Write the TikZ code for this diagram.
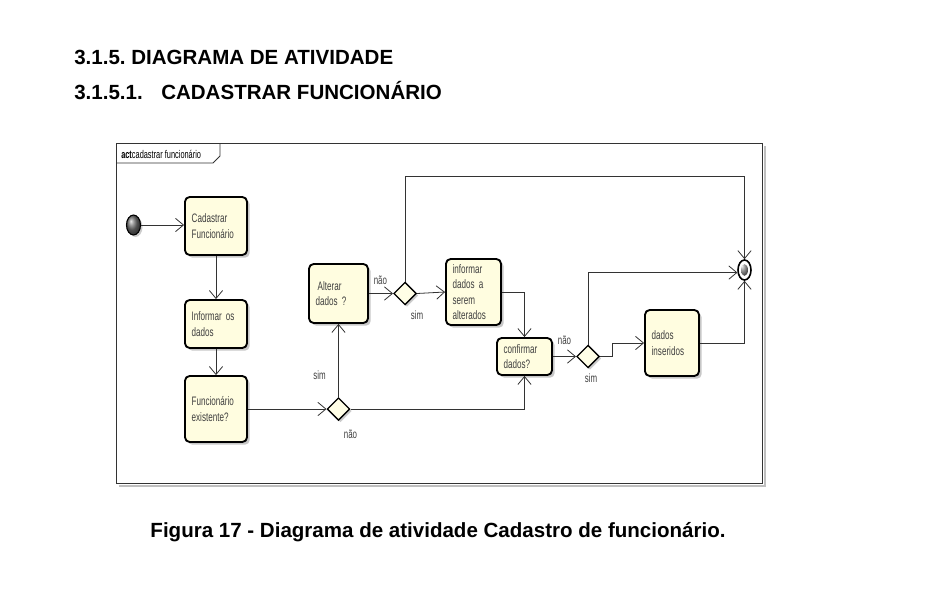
\documentclass[tikz,border=0pt]{standalone}
\usepackage{fontspec}
\setmainfont{Liberation Sans}
\newfontfamily\narrowfont[FakeStretch=0.66]{Liberation Sans}
\newcommand{\boxfont}{\narrowfont\fontsize{9.2}{11.5}\selectfont\spaceskip=1.8pt\relax}
\newcommand{\tabfont}{\narrowfont\fontsize{8.4}{9}\selectfont\spaceskip=1.6pt\relax}
\usetikzlibrary{arrows.meta,shapes.geometric,shadows}

\begin{document}
\begin{tikzpicture}[x=0.75pt,y=-0.75pt,
  box/.style 2 args={draw=black, line width=1.4pt, rounded corners=3.5pt, fill=yellow!12,
    drop shadow={shadow xshift=2pt, shadow yshift=-2pt, fill=black!22, opacity=1},
    align=left, inner xsep=5pt, inner ysep=0pt, text width=#1, minimum height=#2,
    font=\boxfont, text=black!75},
  dec/.style={diamond, draw=black, line width=1pt, fill=yellow!10, inner sep=0pt,
    minimum width=17pt, minimum height=17pt,
    drop shadow={shadow xshift=1.5pt, shadow yshift=-1.5pt, fill=black!20, opacity=1}},
  flow/.style={draw=black!80, line width=0.6pt, -{Straight Barb[length=6pt,width=10pt]}},
  lbl/.style={font=\narrowfont\fontsize{9}{10}\selectfont, text=black!75},
  head/.style={anchor=base west, inner sep=0pt, font=\bfseries\fontsize{15.4}{18}\selectfont}]
\useasboundingbox (0,0) rectangle (946,596);

% titles
\node[head] (h1n) at (74,64) {3.1.5.};
\node[head] (h1t) at (131,64) {DIAGRAMA DE ATIVIDADE};
\node[head] (h2n) at (74,99) {3.1.5.1.};
\node[head] (h2t) at (161,99) {CADASTRAR FUNCIONÁRIO};

% frame
\draw[black!25, line width=1.5pt] (765,146) -- (765,486) -- (119,486);
\draw[black!80, line width=0.7pt] (116,143) rectangle (762,483);
\draw[black!80, line width=0.7pt] (116,163) -- (213,163) -- (220,156) -- (220,143);
\node[anchor=west, inner sep=0pt, font=\tabfont] (tab) at (121,154)
  {\textbf{act}cadastrar funcionário};

% nodes
\node[ellipse, draw=black, line width=0.8pt, minimum width=10.5pt, minimum height=15pt, inner sep=0pt,
  ball color=black!55, drop shadow={shadow xshift=1.5pt, shadow yshift=-1.5pt, fill=black!20, opacity=1}] (ini) at (133.5,225) {};
\node[box={36.5pt}{43.5pt}] (cad) at (216,226) {Cadastrar\\Funcionário};
\node[box={36.5pt}{36pt}] (inf) at (216,324) {Informar os\\dados};
\node[box={36.5pt}{49.5pt}] (fex) at (216,409) {Funcionário\\existente?};
\node[dec] (d1) at (338.5,409) {};
\node[box={34.25pt}{44.25pt}] (alt) at (338.5,293.5) {\,Alterar\\dados ?};
\node[dec] (d2) at (405,293.5) {};
\node[box={31.25pt}{49.5pt}] (isa) at (473.5,292) {informar\\dados a\\serem\\alterados};
\node[box={31.25pt}{27.75pt}] (cfd) at (524.5,356.5) {confirmar\\dados?};
\node[dec] (d3) at (588,356.5) {};
\node[box={30.5pt}{49.5pt}] (din) at (672,343) {dados\\inseridos};
\node[ellipse, draw=black, line width=1.2pt, fill=white, minimum width=9.75pt, minimum height=15pt, inner sep=0pt,
  path picture={\shade[ball color=black!55] (path picture bounding box.center) ellipse (2.6pt and 4.4pt);}] (fin) at (744.5,270) {};

% flows
\draw[flow] (ini) -- (cad.west |- ini);
\draw[flow] (cad) -- (inf);
\draw[flow] (inf) -- (fex);
\draw[flow] (fex) -- (d1);
\draw[flow] (d1) -- (alt) node[lbl, pos=0.3, left=6pt] {sim};
\draw[flow] (d1.east) -| (cfd.south) node[lbl, at start, below=12pt] {não};
\draw[flow] (alt.east) -- (d2.west) node[lbl, at start, anchor=south west, yshift=3pt] {não};
\draw[flow] (d2.east) -- (isa.west) node[lbl, at start, below=9pt] {sim};
\draw[flow] (d2.north) |- (405,176) -| (fin.north);
\draw[flow] (isa.east) -| (cfd.north);
\draw[flow] (cfd.east) -- (d3.west) node[lbl, midway, above=5pt] {não};
\coordinate (d3b) at (612,356.5);
\draw[flow] (d3.east) -- (d3b) |- (din.west);
\node[lbl] (d3s) at (591,378) {sim};
\draw[flow] (d3.north) |- (fin.-160);
\draw[flow] (din.east) -| (fin.south);

% caption
\node[anchor=base, font=\bfseries\fontsize{15.4}{18}\selectfont] (cap) at (438,537)
  {Figura 17 - Diagrama de atividade Cadastro de funcionário.};
\end{tikzpicture}
\end{document}
